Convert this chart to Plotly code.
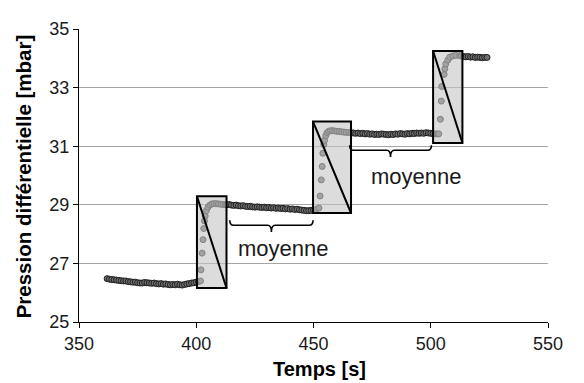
import plotly.graph_objects as go

# ---------------- data ----------------
time_s = [
    362, 363, 364, 365, 366, 367, 368, 369, 370, 371, 372, 373, 374, 375, 376, 377, 378, 379, 380,
    381, 382, 383, 384, 385, 386, 387, 388, 389, 390, 391, 392, 393, 394, 395, 396, 397, 398, 399,
    400, 401, 401.8, 402.0, 402.5, 402.9, 403.2, 403.5, 403.8, 404.3, 405.0, 405.8, 406.7, 407.6,
    408.6, 409.5, 410.5, 411.5, 412.5,
    413, 414, 415, 416, 417, 418, 419, 420, 421, 422, 423, 424, 425, 426, 427, 428, 429, 430, 431,
    432, 433, 434, 435, 436, 437, 438, 439, 440, 441, 442, 443, 444, 445, 446, 447, 448, 449, 450,
    451, 452.3, 452.8, 453.3, 453.7, 454.0, 454.4, 454.7, 455.2, 455.8, 456.5, 457.3, 458.2, 459.1,
    460, 461, 462, 463, 464, 465,
    466, 467, 468, 469, 470, 471, 472, 473, 474, 475, 476, 477, 478, 479, 480, 481, 482, 483, 484,
    485, 486, 487, 488, 489, 490, 491, 492, 493, 494, 495, 496, 497, 498, 499, 500, 501, 502, 503,
    503.4, 504.1, 504.5, 504.7, 505.7, 506.0, 506.4, 507.3, 508.1, 509.4, 510.7, 512.4,
    513, 514, 515, 516, 517, 518, 519, 520, 521, 522, 523, 524,
]
pressure_mbar = [
    26.48, 26.46, 26.45, 26.44, 26.43, 26.42, 26.41, 26.40, 26.40, 26.38, 26.37, 26.36, 26.36, 26.34,
    26.33, 26.33, 26.35, 26.34, 26.33, 26.32, 26.33, 26.31, 26.30, 26.31, 26.29, 26.30, 26.28, 26.27,
    26.28, 26.27, 26.29, 26.27, 26.26, 26.28, 26.30, 26.31, 26.33, 26.34, 26.36, 26.38,
    26.40, 26.78, 27.35, 27.81, 28.19, 28.45, 28.62, 28.80, 28.92, 28.99, 29.03, 29.04,
    29.04, 29.03, 29.02, 29.01, 29.00,
    29.00, 29.01, 28.99, 28.98, 28.99, 28.97, 28.96, 28.97, 28.95, 28.94, 28.95, 28.93, 28.92, 28.93,
    28.92, 28.91, 28.92, 28.90, 28.91, 28.89, 28.90, 28.88, 28.89, 28.87, 28.88, 28.86, 28.87, 28.85,
    28.86, 28.84, 28.85, 28.83, 28.82, 28.81, 28.80, 28.80, 28.81, 28.82,
    28.84, 28.89, 29.30, 29.85, 30.31, 30.76, 31.06, 31.20, 31.36, 31.46, 31.51, 31.53, 31.53, 31.52,
    31.51, 31.50, 31.49, 31.48, 31.47, 31.47,
    31.46, 31.45, 31.44, 31.45, 31.43, 31.44, 31.42, 31.43, 31.41, 31.42, 31.40, 31.41, 31.40, 31.42,
    31.41, 31.40, 31.39, 31.41, 31.40, 31.42, 31.41, 31.43, 31.42, 31.41, 31.43, 31.42, 31.44, 31.43,
    31.45, 31.44, 31.45, 31.44, 31.46, 31.45, 31.44, 31.43, 31.42, 31.42,
    31.42, 31.92, 32.54, 33.04, 33.45, 33.64, 33.81, 33.94, 34.04, 34.08, 34.10, 34.09,
    34.08, 34.06, 34.05, 34.06, 34.04, 34.05, 34.03, 34.04, 34.03, 34.02, 34.03, 34.03,
]

# transition windows (time start, time end, pressure low, pressure high)
win_t0 = [400.3, 449.8, 501.0]
win_t1 = [412.9, 466.0, 513.5]
win_p0 = [26.16, 28.72, 31.11]
win_p1 = [29.29, 31.84, 34.25]

# "moyenne" braces
brace_t0 = [414.3, 465.4]
brace_t1 = [449.8, 500.3]
brace_top = [28.47, 31.03]
brace_label = ["moyenne", "moyenne"]
label_t = [437.0, 493.8]
label_p = [27.51, 29.98]

x_ticks = [350, 400, 450, 500, 550]
y_ticks = [25, 27, 29, 31, 33, 35]

# ---------------- figure ----------------
fig = go.Figure()
fig.add_trace(go.Scatter(
    x=time_s, y=pressure_mbar, mode="markers",
    marker=dict(size=6, color="#6f6f6f", line=dict(color="#1f1f1f", width=1)),
    showlegend=False, hoverinfo="skip",
))

shapes = []
for a, b, lo, hi in zip(win_t0, win_t1, win_p0, win_p1):
    shapes.append(dict(type="rect", xref="x", yref="y", x0=a, x1=b, y0=lo, y1=hi,
                       fillcolor="rgba(196,196,196,0.6)", line=dict(color="black", width=2),
                       layer="above"))
    shapes.append(dict(type="line", xref="x", yref="y", x0=a, x1=b, y0=hi, y1=lo,
                       line=dict(color="black", width=2), layer="above"))

for a, b, top in zip(brace_t0, brace_t1, brace_top):
    mid = (a + b) / 2
    h = 0.17
    tip = 0.40
    r = 1.6
    path = (f"M {a},{top} Q {a},{top-h} {a+r},{top-h} "
            f"L {mid-r},{top-h} Q {mid},{top-h} {mid},{top-tip} "
            f"Q {mid},{top-h} {mid+r},{top-h} "
            f"L {b-r},{top-h} Q {b},{top-h} {b},{top}")
    shapes.append(dict(type="path", xref="x", yref="y", path=path,
                       line=dict(color="black", width=1.6), layer="above"))

annotations = []
for txt, xt, yp in zip(brace_label, label_t, label_p):
    annotations.append(dict(x=xt, y=yp, xref="x", yref="y", text=txt, showarrow=False,
                            font=dict(family="Liberation Sans, Arial", size=22, color="#1a1a1a")))

annotations.append(dict(x=0.513, y=-0.160, xref="paper", yref="paper", text="<b>Temps [s]</b>",
                        showarrow=False, yanchor="middle", xanchor="center",
                        font=dict(family="Liberation Sans, Arial", size=20, color="black")))
annotations.append(dict(x=-0.118, y=0.496, xref="paper", yref="paper",
                        text="<b>Pression différentielle [mbar]</b>", textangle=-90,
                        showarrow=False, xanchor="center", yanchor="middle",
                        font=dict(family="Liberation Sans, Arial", size=20.5, color="black")))

fig.update_layout(
    width=584, height=383,
    margin=dict(l=71, r=44, t=11, b=69),
    paper_bgcolor="white", plot_bgcolor="white",
    shapes=shapes, annotations=annotations,
    font=dict(family="Liberation Sans, Arial", size=18, color="#1a1a1a"),
    xaxis=dict(range=[350, 550], tickvals=x_ticks, ticktext=[str(v) for v in x_ticks],
               showgrid=False, zeroline=False, showline=True, linecolor="black", linewidth=1,
               ticks="outside", ticklen=5, tickcolor="black", tickfont=dict(size=18)),
    yaxis=dict(range=[25, 35], tickvals=y_ticks, ticktext=[str(v) for v in y_ticks],
               showgrid=True, gridcolor="#a6a6a6", gridwidth=1, zeroline=False,
               showline=True, linecolor="black", linewidth=1,
               ticks="outside", ticklen=5, tickcolor="black", tickfont=dict(size=18)),
)

fig.write_html("out.html")
